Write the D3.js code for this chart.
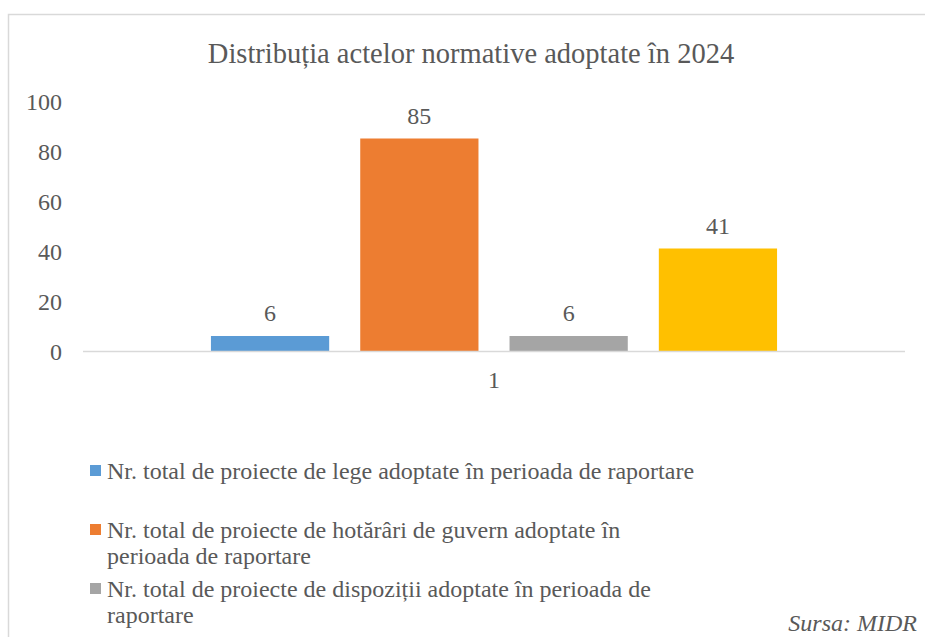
<!DOCTYPE html>
<html>
<head>
<meta charset="utf-8">
<script src="https://cdn.jsdelivr.net/npm/d3@7"></script>
</head>
<body style="margin:0">
<script>
const categories = ["1"];
const seriesNames = [
    "Nr. total de proiecte de lege adoptate în perioada de raportare",
    "Nr. total de proiecte de hotărâri de guvern adoptate în\nperioada de raportare",
    "Nr. total de proiecte de dispoziții adoptate în perioada de\nraportare",
    "Nr. total de proiecte de ordine adoptate în perioada de\nraportare"
];
const seriesValues = [6, 85, 6, 41];
const seriesColors = ["#5b9bd5", "#ed7d31", "#a5a5a5", "#ffc000"];
const yTicks = [0, 20, 40, 60, 80, 100];

const W = 925, H = 637;
const plot = { left: 83, right: 905, top: 101, bottom: 351 };
const FONT = "Liberation Serif";
const TEXT = "#595959";

const svg = d3.select("body")
    .append("svg")
    .attr("width", W)
    .attr("height", H);

// chart frame (right and bottom edges fall outside the picture)
svg.append("rect")
    .attr("x", 8.5)
    .attr("y", 14.5)
    .attr("width", W + 20)
    .attr("height", H + 20)
    .attr("fill", "none")
    .attr("stroke", "#d9d9d9")
    .attr("stroke-width", 1.5);

svg.append("text")
    .attr("x", 471)
    .attr("y", 63)
    .attr("text-anchor", "middle")
    .attr("font-family", FONT)
    .attr("font-size", 28.5)
    .attr("fill", TEXT)
    .text("Distribuția actelor normative adoptate în 2024");

const y = d3.scaleLinear()
    .domain([0, 100])
    .range([plot.bottom, plot.top]);

const x0 = d3.scaleBand()
    .domain(categories)
    .range([plot.left, plot.right])
    .paddingInner(0)
    .paddingOuter(0.226);

const x1 = d3.scaleBand()
    .domain(d3.range(seriesValues.length))
    .range([0, x0.bandwidth()])
    .paddingInner(0.208)
    .paddingOuter(0);

// y tick labels, no axis line
svg.selectAll(".ytick")
    .data(yTicks)
    .join("text")
    .attr("class", "ytick")
    .attr("x", 62)
    .attr("y", d => y(d))
    .attr("dy", "0.37em")
    .attr("text-anchor", "end")
    .attr("font-family", FONT)
    .attr("font-size", 24)
    .attr("fill", TEXT)
    .text(d => d);

const g = svg.selectAll(".cat")
    .data(categories)
    .join("g")
    .attr("class", "cat")
    .attr("transform", d => `translate(${x0(d)},0)`);

g.selectAll("rect")
    .data(seriesValues.map((v, i) => ({ v, i })))
    .join("rect")
    .attr("x", d => x1(d.i))
    .attr("y", d => y(d.v))
    .attr("width", x1.bandwidth())
    .attr("height", d => y(0) - y(d.v))
    .attr("fill", d => seriesColors[d.i]);

g.selectAll(".val")
    .data(seriesValues.map((v, i) => ({ v, i })))
    .join("text")
    .attr("class", "val")
    .attr("x", d => x1(d.i) + x1.bandwidth() / 2)
    .attr("y", d => y(d.v) - 15)
    .attr("text-anchor", "middle")
    .attr("font-family", FONT)
    .attr("font-size", 24)
    .attr("fill", TEXT)
    .text(d => d.v);

// category axis line and label
svg.append("line")
    .attr("x1", plot.left)
    .attr("x2", plot.right)
    .attr("y1", y(0) + 0.5)
    .attr("y2", y(0) + 0.5)
    .attr("stroke", "#d9d9d9")
    .attr("stroke-width", 1.5);

svg.selectAll(".xlab")
    .data(categories)
    .join("text")
    .attr("class", "xlab")
    .attr("x", d => x0(d) + x0.bandwidth() / 2)
    .attr("y", 388)
    .attr("text-anchor", "middle")
    .attr("font-family", FONT)
    .attr("font-size", 24)
    .attr("fill", TEXT)
    .text(d => d);

// legend: entries that would start below the picture are left out (clipped in the original)
const legendTop = 479, legendStep = 59;
const legendItems = seriesNames
    .map((name, i) => ({ name, i }))
    .filter(d => legendTop + d.i * legendStep < H);

const legend = svg.selectAll(".leg")
    .data(legendItems)
    .join("g")
    .attr("class", "leg")
    .attr("transform", d => `translate(90,${legendTop + d.i * legendStep})`);

legend.append("rect")
    .attr("x", 0)
    .attr("y", -14)
    .attr("width", 11)
    .attr("height", 11)
    .attr("fill", d => seriesColors[d.i]);

legend.append("text")
    .attr("x", 17)
    .attr("y", 0)
    .attr("font-family", FONT)
    .attr("font-size", 24)
    .attr("fill", TEXT)
    .selectAll("tspan")
    .data(d => d.name.split("\n"))
    .join("tspan")
    .attr("x", 17)
    .attr("dy", (d, i) => i === 0 ? 0 : 26)
    .text(d => d);

svg.append("text")
    .attr("x", 917)
    .attr("y", 631)
    .attr("text-anchor", "end")
    .attr("font-family", FONT)
    .attr("font-size", 24)
    .attr("font-style", "italic")
    .attr("fill", TEXT)
    .text("Sursa: MIDR");
</script>
</body>
</html>
